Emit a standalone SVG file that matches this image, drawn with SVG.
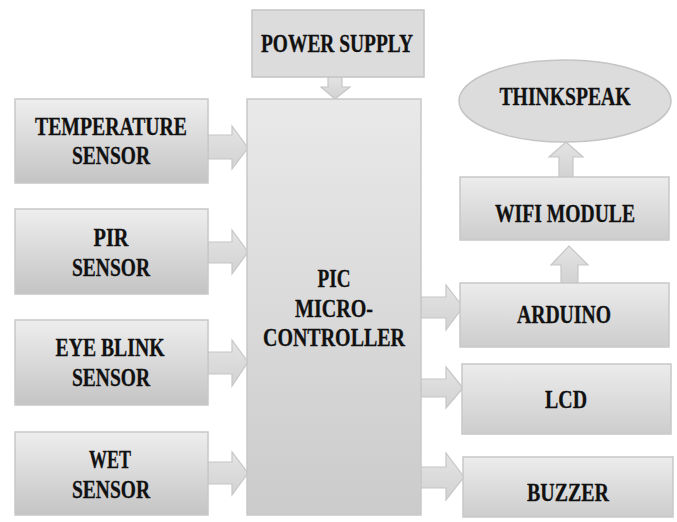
<svg xmlns="http://www.w3.org/2000/svg" width="677" height="522" viewBox="0 0 677 522">
<defs>
<linearGradient id="gbox" x1="0" y1="0" x2="0" y2="1">
<stop offset="0" stop-color="#eeeeee"/>
<stop offset="1" stop-color="#c4c4c4"/>
</linearGradient>
<linearGradient id="gmcu" x1="0" y1="0" x2="0" y2="1">
<stop offset="0" stop-color="#e9e9e9"/>
<stop offset="1" stop-color="#cbcbcb"/>
</linearGradient>
<linearGradient id="gright" x1="0" y1="0" x2="0" y2="1">
<stop offset="0" stop-color="#ececec"/>
<stop offset="1" stop-color="#cdcdcd"/>
</linearGradient>
<linearGradient id="garr" x1="0" y1="0" x2="0" y2="1">
<stop offset="0" stop-color="#e4e4e4"/>
<stop offset="1" stop-color="#d2d2d2"/>
</linearGradient>
</defs>
<style>
.box{fill:url(#gbox);stroke:#c8c8c8;stroke-width:1.5}
.mcu{fill:url(#gmcu);stroke:#c8c8c8;stroke-width:1.5}
.rbox{fill:url(#gright);stroke:#c8c8c8;stroke-width:1.5}
.flat{fill:#dcdcdc;stroke:#c4c4c4;stroke-width:1.5}
.arr{fill:url(#garr);stroke:#c6c6c6;stroke-width:1.2}
text{font-family:"Liberation Serif","Times New Roman",serif;font-weight:bold;font-size:25px;fill:#111;text-anchor:middle;stroke:#111;stroke-width:0.3}
</style>
<rect width="677" height="522" fill="#ffffff"/>

<g id="connectors">
<polygon class="arr" points="208,135 232,135 232,126 248,148 232,169 232,159 208,159"/>
<polygon class="arr" points="208,242 232,242 232,230 248,252 232,274 232,263 208,263"/>
<polygon class="arr" points="208,352 232,352 232,340 248,362 232,386 232,374 208,374"/>
<polygon class="arr" points="208,462 232,462 232,452 248,473 232,495 232,484 208,484"/>
<polygon class="arr" points="328,76 342,76 342,87 350,87 335,99 321,87 328,87"/>
<polygon class="arr" points="421,297 446,297 446,285 463,307 446,330 446,318 421,318"/>
<polygon class="arr" points="421,379 446,379 446,367 463,388 446,408 446,397 421,397"/>
<polygon class="arr" points="421,467 446,467 446,453 464,477 446,500 446,488 421,488"/>
<polygon class="arr" points="561,283 578,283 578,265 588,265 569,246 551,265 561,265"/>
<polygon class="arr" points="559,177 573,177 573,157 583,157 566,142 549,157 559,157"/>
</g>

<g id="power">
<rect class="flat" x="252" y="10" width="172" height="67"/>
<text x="337" y="52" textLength="152" lengthAdjust="spacingAndGlyphs">POWER SUPPLY</text>
</g>

<g id="temperature">
<rect class="box" x="15" y="99" width="193" height="84"/>
<text x="111" y="135" textLength="152" lengthAdjust="spacingAndGlyphs">TEMPERATURE</text>
<text x="111" y="164" textLength="78" lengthAdjust="spacingAndGlyphs">SENSOR</text>
</g>

<g id="pir">
<rect class="box" x="15" y="209" width="193" height="85"/>
<text x="111" y="246" textLength="35" lengthAdjust="spacingAndGlyphs">PIR</text>
<text x="111" y="276" textLength="78" lengthAdjust="spacingAndGlyphs">SENSOR</text>
</g>

<g id="eyeblink">
<rect class="box" x="15" y="320" width="193" height="85"/>
<text x="110" y="356" textLength="109" lengthAdjust="spacingAndGlyphs">EYE BLINK</text>
<text x="111" y="386" textLength="78" lengthAdjust="spacingAndGlyphs">SENSOR</text>
</g>

<g id="wet">
<rect class="box" x="15" y="432" width="193" height="83"/>
<text x="110" y="468" textLength="42" lengthAdjust="spacingAndGlyphs">WET</text>
<text x="111" y="498" textLength="78" lengthAdjust="spacingAndGlyphs">SENSOR</text>
</g>

<g id="pic">
<rect class="mcu" x="247" y="99" width="174" height="416"/>
<text x="334" y="287" textLength="33" lengthAdjust="spacingAndGlyphs">PIC</text>
<text x="334" y="317" textLength="78" lengthAdjust="spacingAndGlyphs">MICRO-</text>
<text x="334" y="346" textLength="142" lengthAdjust="spacingAndGlyphs">CONTROLLER</text>
</g>

<g id="thinkspeak">
<ellipse class="flat" cx="565" cy="101" rx="106" ry="41"/>
<text x="565" y="105" textLength="131" lengthAdjust="spacingAndGlyphs">THINKSPEAK</text>
</g>

<g id="wifi">
<rect class="rbox" x="460" y="177" width="209" height="63"/>
<text x="565" y="222" textLength="140" lengthAdjust="spacingAndGlyphs">WIFI MODULE</text>
</g>

<g id="arduino">
<rect class="rbox" x="460" y="283" width="209" height="64"/>
<text x="564" y="323" textLength="94" lengthAdjust="spacingAndGlyphs">ARDUINO</text>
</g>

<g id="lcd">
<rect class="rbox" x="462" y="364" width="209" height="70"/>
<text x="566" y="408" textLength="42" lengthAdjust="spacingAndGlyphs">LCD</text>
</g>

<g id="buzzer">
<rect class="rbox" x="463" y="457" width="210" height="60"/>
<text x="568" y="501" textLength="82" lengthAdjust="spacingAndGlyphs">BUZZER</text>
</g>
</svg>
